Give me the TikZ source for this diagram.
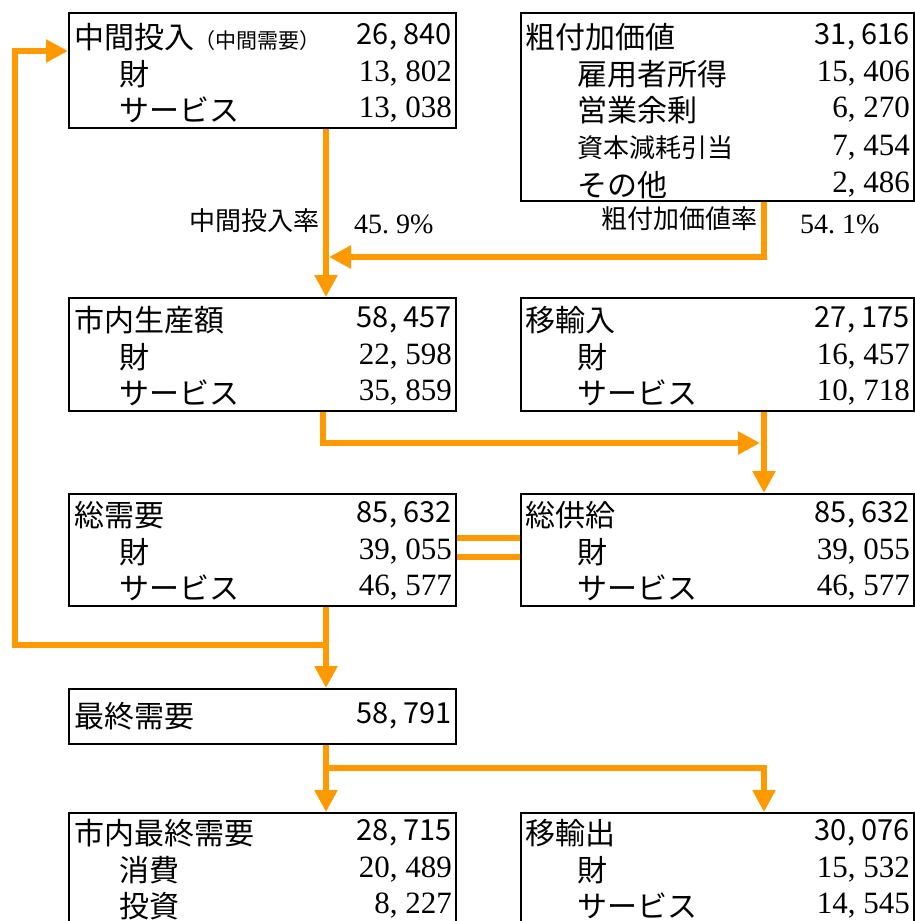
\documentclass[tikz,border=0pt]{standalone}
\usepackage{fontspec}
\setmainfont{Noto Sans CJK JP}
\newfontfamily\numserif{Liberation Serif}
\usetikzlibrary{arrows.meta}
\definecolor{flowor}{RGB}{255,153,0}
\newcommand\cma{\makebox[0.5em][l]{,}}
\newcommand\dtt{\makebox[0.5em][l]{.}}

\begin{document}
\begin{tikzpicture}[x=1pt,y=-1pt,
  box/.style={draw=black,line width=2pt,anchor=north west,inner sep=0pt},
  head/.style={anchor=west,font=\fontsize{30}{32}\selectfont,inner sep=0pt},
  headnum/.style={anchor=east,font=\fontsize{29}{32}\selectfont,inner sep=0pt},
  item/.style={anchor=west,font=\fontsize{30}{32}\selectfont,inner sep=0pt},
  itemnum/.style={anchor=east,font=\numserif\fontsize{31}{32}\selectfont,inner sep=0pt},
  ratelbl/.style={anchor=east,font=\fontsize{26}{28}\selectfont,inner sep=0pt},
  ratenum/.style={anchor=west,font=\numserif\fontsize{28}{30}\selectfont,inner sep=0pt},
  flow/.style={draw=flowor,line width=6pt},
  flowarr/.style={flow,-{Triangle[width=22pt,length=22pt]}}]
\useasboundingbox (0,0) rectangle (915,921);
\clip (0,0) rectangle (915,921);

% boxes
\node[box,minimum width=387pt,minimum height=115pt] (inp) at (68,12) {};
\node[box,minimum width=393pt,minimum height=188pt] (gva) at (520,12) {};
\node[box,minimum width=387pt,minimum height=113pt] (prod) at (68,297) {};
\node[box,minimum width=393pt,minimum height=113pt] (imp) at (520,297) {};
\node[box,minimum width=387pt,minimum height=112pt] (dem) at (68,493) {};
\node[box,minimum width=393pt,minimum height=112pt] (supply) at (520,493) {};
\node[box,minimum width=387pt,minimum height=55pt] (fin) at (68,688) {};
\node[box,minimum width=387pt,minimum height=116pt] (dom) at (68,812) {};
\node[box,minimum width=393pt,minimum height=116pt] (exp) at (520,812) {};

% intermediate input
\node[head] (inph) at (74,37) {中間投入{\fontsize{21}{22}\selectfont（中間需要）}};
\node[headnum] (inpv) at (452,37) {26\cma840};
\node[item] (inpg) at (119,74) {財};
\node[itemnum] (inpgv) at (452,74) {13\cma802};
\node[item] (inps) at (119,110) {サービス};
\node[itemnum] (inpsv) at (452,110) {13\cma038};

% gross value added
\node[head] (gvah) at (525,37) {粗付加価値};
\node[headnum] (gvav) at (910,37) {31\cma616};
\node[item] (gva1) at (577,74) {雇用者所得};
\node[itemnum] (gva1v) at (910,74) {15\cma406};
\node[item] (gva2) at (577,110) {営業余剰};
\node[itemnum] (gva2v) at (910,110) {6\cma270};
\node[item,font=\fontsize{26}{28}\selectfont] (gva3) at (577,148) {資本減耗引当};
\node[itemnum] (gva3v) at (910,148) {7\cma454};
\node[item] (gva4) at (577,185) {その他};
\node[itemnum] (gva4v) at (910,185) {2\cma486};

% rates
\node[ratelbl] (inrate) at (320,221) {中間投入率};
\node[ratenum] (inratev) at (354,224) {45\dtt9\%};
\node[ratelbl] (varate) at (758,219) {粗付加価値率};
\node[ratenum] (varatev) at (800,224) {54\dtt1\%};

% production
\node[head] (prodh) at (74,320) {市内生産額};
\node[headnum] (prodv) at (452,320) {58\cma457};
\node[item] (prodg) at (119,357) {財};
\node[itemnum] (prodgv) at (452,357) {22\cma598};
\node[item] (prods) at (119,393) {サービス};
\node[itemnum] (prodsv) at (452,393) {35\cma859};

% imports
\node[head] (imph) at (525,320) {移輸入};
\node[headnum] (impv) at (910,320) {27\cma175};
\node[item] (impg) at (577,357) {財};
\node[itemnum] (impgv) at (910,357) {16\cma457};
\node[item] (imps) at (577,393) {サービス};
\node[itemnum] (impsv) at (910,393) {10\cma718};

% total demand
\node[head] (demh) at (74,515) {総需要};
\node[headnum] (demv) at (452,515) {85\cma632};
\node[item] (demg) at (119,552) {財};
\node[itemnum] (demgv) at (452,552) {39\cma055};
\node[item] (dems) at (119,588) {サービス};
\node[itemnum] (demsv) at (452,588) {46\cma577};

% total supply
\node[head] (suph) at (525,515) {総供給};
\node[headnum] (supv) at (910,515) {85\cma632};
\node[item] (supg) at (577,552) {財};
\node[itemnum] (supgv) at (910,552) {39\cma055};
\node[item] (sups) at (577,588) {サービス};
\node[itemnum] (supsv) at (910,588) {46\cma577};

% final demand
\node[head] (finh) at (74,716) {最終需要};
\node[headnum] (finv) at (452,716) {58\cma791};

% domestic final demand
\node[head] (domh) at (74,833) {市内最終需要};
\node[headnum] (domv) at (452,833) {28\cma715};
\node[item] (dom1) at (119,870) {消費};
\node[itemnum] (dom1v) at (452,870) {20\cma489};
\node[item] (dom2) at (119,906) {投資};
\node[itemnum] (dom2v) at (452,906) {8\cma227};

% exports
\node[head] (exph) at (525,833) {移輸出};
\node[headnum] (expv) at (910,833) {30\cma076};
\node[item] (expg) at (577,870) {財};
\node[itemnum] (expgv) at (910,870) {15\cma532};
\node[item] (exps) at (577,906) {サービス};
\node[itemnum] (expsv) at (910,906) {14\cma545};

% flows
\coordinate (vajoin) at (329,257);
\coordinate (supjoin) at (760,443);
\coordinate (fdsplit) at (325,645);
\coordinate (exsplit) at (325,768);
\draw[flowarr] ([xshift=63.5pt]inp.south) -- ([xshift=63.5pt]prod.north);
\draw[flowarr] ([xshift=46.5pt]gva.south) |- (vajoin);
\draw[flowarr] ([xshift=60.5pt]prod.south) |- (supjoin);
\draw[flowarr] ([xshift=46.5pt]imp.south) -- ([xshift=46.5pt]supply.north);
\draw[flow] ([yshift=12pt]dem.east) -- ([yshift=12pt]supply.west);
\draw[flow] ([yshift=-7pt]dem.east) -- ([yshift=-7pt]supply.west);
\draw[flowarr] ([xshift=63.5pt]dem.south) -- ([xshift=63.5pt]fin.north);
\draw[flowarr] (fdsplit) -| ([xshift=-53pt,yshift=19.5pt]inp.west) -- ([yshift=19.5pt]inp.west);
\draw[flowarr] ([xshift=63.5pt]fin.south) -- ([xshift=63.5pt]dom.north);
\draw[flowarr] (exsplit) -| ([xshift=46.5pt]exp.north);
\end{tikzpicture}
\end{document}
